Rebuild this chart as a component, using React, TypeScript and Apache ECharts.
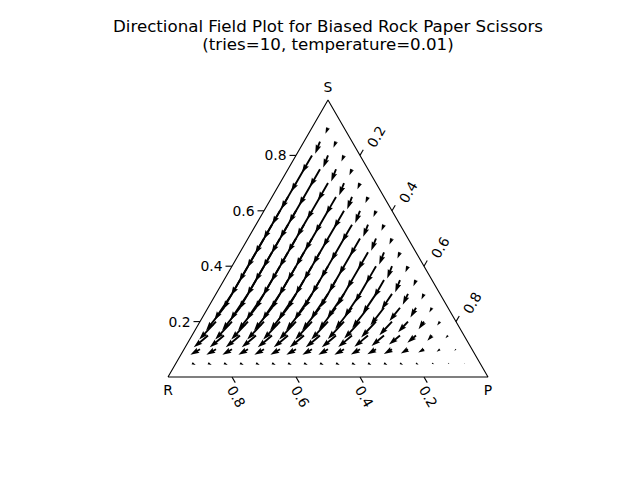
import React, { useEffect, useRef } from "react";
import * as echarts from "echarts";

const TITLE = "Directional Field Plot for Biased Rock Paper Scissors";
const SUBTITLE = "(tries=10, temperature=0.01)";
const CORNER_NAMES = ["R", "P", "S"];
const TICK_VALUES = [0.2, 0.4, 0.6, 0.8];
const TICK_LABELS = ["0.2", "0.4", "0.6", "0.8"];
const STEP = 0.05;

// Sample grid rows, bottom (S = 0.05) to top (S = 0.90); within a row P = 0.05, 0.10, ...
// Flow (x1000): change of the S share and of the P share.
const dS_rows: number[][] = [
  [-7, -7, -7, -7, -7, -7, -7, -7, -7, -7, -7, -7, -7, -7, -6, -4, -3, -1],
  [-20, -20, -20, -20, -20, -20, -20, -20, -20, -20, -19, -18, -17, -15, -12, -9, -5],
  [-43, -43, -43, -43, -43, -43, -43, -43, -43, -42, -41, -38, -33, -26, -19, -10],
  [-65, -65, -65, -65, -65, -65, -65, -65, -63, -61, -57, -49, -38, -28, -14],
  [-82, -82, -82, -82, -82, -82, -82, -80, -77, -73, -63, -48, -35, -17],
  [-95, -95, -95, -95, -95, -95, -92, -89, -84, -72, -56, -39, -20],
  [-106, -106, -106, -106, -106, -103, -100, -94, -81, -63, -44, -22],
  [-106, -106, -106, -106, -103, -100, -94, -81, -63, -44, -22],
  [-106, -106, -106, -103, -100, -94, -81, -63, -44, -22],
  [-106, -106, -103, -100, -94, -81, -63, -44, -22],
  [-106, -103, -100, -94, -81, -63, -44, -22],
  [-103, -100, -94, -81, -63, -44, -22],
  [-100, -94, -81, -63, -44, -22],
  [-94, -81, -63, -44, -22],
  [-81, -63, -44, -22],
  [-63, -44, -22],
  [-44, -22],
  [-22],
];
const dP_rows: number[][] = [
  [15, 15, 15, 15, 15, 15, 15, 15, 15, 15, 15, 14, 14, 13, 11, 9, 6, 3],
  [-20, -20, -20, -20, -20, -20, -20, -20, -20, -20, -19, -18, -17, -15, -12, -6, -3],
  [-23, -23, -23, -23, -23, -23, -23, -23, -23, -22, -22, -20, -18, -14, -5, -3],
  [-20, -20, -20, -20, -20, -20, -20, -20, -19, -19, -18, -15, -12, -3, -2],
  [-15, -15, -15, -15, -15, -15, -15, -14, -14, -13, -11, -9, 0, 0],
  [-8, -8, -8, -8, -8, -8, -8, -8, -7, -6, -5, 3, 2],
  [0, 0, 0, 0, 0, 0, 0, 0, 0, 0, 7, 3],
  [0, 0, 0, 0, 0, 0, 0, 0, 0, 7, 3],
  [0, 0, 0, 0, 0, 0, 0, 0, 7, 3],
  [0, 0, 0, 0, 0, 0, 0, 7, 3],
  [0, 0, 0, 0, 0, 0, 7, 3],
  [0, 0, 0, 0, 0, 7, 3],
  [0, 0, 0, 0, 7, 3],
  [0, 0, 0, 7, 3],
  [0, 0, 7, 3],
  [0, 7, 3],
  [7, 3],
  [3],
];

const FONT = '"DejaVu Sans", Verdana, sans-serif';
const TICK_LEN = 6.5;
const SHAFT_W = 1.9;
const HEAD_LEN = 9;
const HEAD_AXIS = 8.1;
const HEAD_W = 5.7;

export default function App() {
  const ref = useRef<HTMLDivElement>(null);
  useEffect(() => {
    const chart = echarts.init(ref.current!, null, { renderer: "svg" });

    // ternary (r, p, s) -> cartesian: x = p + s/2, y = s
    const arrows: number[][] = [];
    dS_rows.forEach((row, i) => {
      const s = STEP * (i + 1);
      row.forEach((v, j) => {
        const p = STEP * (j + 1);
        const dS = v / 1000;
        const dP = dP_rows[i][j] / 1000;
        arrows.push([p + s / 2, s, dP + dS / 2, dS]);
      });
    });

    // axis ticks: [x, y, axis, index]  axis 0 = S (left), 1 = R (bottom), 2 = P (right)
    const ticks: number[][] = [];
    TICK_VALUES.forEach((v, i) => {
      ticks.push([v / 2, v, 0, i]);
      ticks.push([1 - v, 0, 1, i]);
      ticks.push([v + (1 - v) / 2, 1 - v, 2, i]);
    });

    const corners: number[][] = [
      [0, 0, 0],
      [1, 0, 1],
      [0.5, 1, 2],
    ];

    const textStyle = (text: string, align: string, vAlign: string, size = 13.9, lh?: number) => ({
      text,
      fill: "#000",
      fontSize: size,
      fontFamily: FONT,
      align,
      verticalAlign: vAlign,
      ...(lh ? { lineHeight: lh } : {}),
    });

    chart.setOption({
      animation: false,
      backgroundColor: "#fff",
      grid: { left: 168, top: 100, width: 320, height: 277, containLabel: false },
      xAxis: { type: "value", min: 0, max: 1, show: false },
      yAxis: { type: "value", min: 0, max: 1, show: false },
      graphic: [
        {
          type: "text",
          x: 328,
          y: 26.5,
          style: textStyle(TITLE, "center", "middle", 16.67, 16),
        },
        {
          type: "text",
          x: 328,
          y: 44.5,
          style: textStyle(SUBTITLE, "center", "middle", 16.67, 16),
        },
      ],
      series: [
        {
          type: "line",
          data: [
            [0, 0],
            [1, 0],
            [0.5, 1],
            [0, 0],
          ],
          symbol: "none",
          silent: true,
          clip: false,
          lineStyle: { color: "#000", width: 1.1 },
        },
        {
          type: "custom",
          coordinateSystem: "cartesian2d",
          silent: true,
          clip: false,
          data: arrows,
          renderItem: (params: any, api: any) => {
            const x = api.value(0);
            const y = api.value(1);
            const dx = api.value(2);
            const dy = api.value(3);
            const a = api.coord([x, y]);
            const b = api.coord([x + dx, y + dy]);
            const vx = b[0] - a[0];
            const vy = b[1] - a[1];
            const L = Math.hypot(vx, vy);
            if (L < 0.3) return null;
            const k = L < HEAD_LEN ? L / HEAD_LEN : 1;
            const w = (SHAFT_W * k) / 2;
            const hw = (HEAD_W * k) / 2;
            const hl = HEAD_LEN * k;
            const ha = HEAD_AXIS * k;
            const local = [
              [0, -w],
              [L - ha, -w],
              [L - hl, -hw],
              [L, 0],
              [L - hl, hw],
              [L - ha, w],
              [0, w],
            ];
            const c = vx / L;
            const s = vy / L;
            const points = local.map(([u, v]) => [a[0] + u * c - v * s, a[1] + u * s + v * c]);
            return {
              type: "polygon",
              shape: { points },
              style: { fill: "#000" },
            };
          },
        },
        {
          type: "custom",
          coordinateSystem: "cartesian2d",
          silent: true,
          clip: false,
          data: ticks,
          renderItem: (params: any, api: any) => {
            const axis = api.value(2);
            const idx = api.value(3);
            const base = api.coord([api.value(0), api.value(1)]);
            let dir: number[];
            if (axis === 0) dir = [-1, 0];
            else if (axis === 1) dir = [0.5, 0.866];
            else dir = [0.5, -0.866];
            const end = [base[0] + dir[0] * TICK_LEN, base[1] + dir[1] * TICK_LEN];
            let label: any;
            const txt = TICK_LABELS[idx];
            if (axis === 0) {
              label = {
                type: "text",
                x: end[0] - 3,
                y: end[1],
                style: textStyle(txt, "right", "middle"),
              };
            } else if (axis === 1) {
              label = {
                type: "text",
                x: end[0] + 1,
                y: end[1] + 14,
                rotation: -Math.PI / 3,
                style: textStyle(txt, "center", "middle"),
              };
            } else {
              label = {
                type: "text",
                x: end[0] + 13,
                y: end[1] - 13,
                rotation: Math.PI / 3,
                style: textStyle(txt, "center", "middle"),
              };
            }
            return {
              type: "group",
              children: [
                {
                  type: "line",
                  shape: { x1: base[0], y1: base[1], x2: end[0], y2: end[1] },
                  style: { stroke: "#000", lineWidth: 1.1 },
                },
                label,
              ],
            };
          },
        },
        {
          type: "custom",
          coordinateSystem: "cartesian2d",
          silent: true,
          clip: false,
          data: corners,
          renderItem: (params: any, api: any) => {
            const pt = api.coord([api.value(0), api.value(1)]);
            const i = api.value(2);
            const off = i === 2 ? -13 : 13;
            return {
              type: "text",
              x: pt[0],
              y: pt[1] + off,
              style: textStyle(CORNER_NAMES[i], "center", "middle"),
            };
          },
        },
      ],
    });
    return () => chart.dispose();
  }, []);
  return (
    <div
      ref={ref}
      style={{ position: "absolute", left: 0, top: 0, width: 640, height: 480 }}
    />
  );
}
